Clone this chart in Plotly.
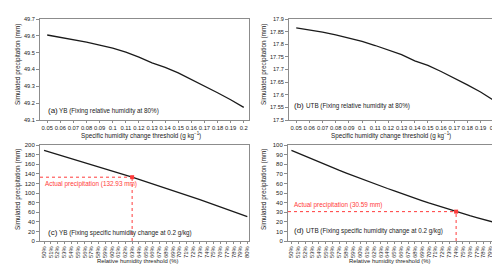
import plotly.graph_objects as go

# ---------------- data ----------------
sh_thresholds = ["0.05", "0.06", "0.07", "0.08", "0.09", "0.1", "0.11", "0.12",
                 "0.13", "0.14", "0.15", "0.16", "0.17", "0.18", "0.19", "0.2"]
yb_sh = [49.605, 49.592, 49.578, 49.562, 49.545, 49.527, 49.503, 49.474,
         49.440, 49.413, 49.380, 49.342, 49.300, 49.262, 49.220, 49.175]
utb_sh = [17.865, 17.857, 17.848, 17.837, 17.825, 17.811, 17.795, 17.777,
          17.759, 17.734, 17.716, 17.692, 17.667, 17.639, 17.611, 17.578]

rh_thresholds = [f"{v}%" for v in range(50, 81)]
yb_rh = [189.0, 184.8, 180.6, 176.4, 172.1, 167.8, 163.5, 159.2, 154.8, 150.4,
         146.0, 141.6, 137.3, 132.93, 128.4, 123.9, 119.3, 114.7, 110.0, 105.3,
         100.6, 95.8, 91.0, 86.1, 81.2, 76.2, 71.2, 66.1, 61.0, 55.8, 50.6]
utb_rh = [94.5, 91.4, 88.3, 85.3, 82.3, 79.4, 76.5, 73.6, 70.8, 68.0,
          65.3, 62.6, 59.9, 57.3, 54.7, 52.2, 49.5, 46.9, 44.4, 42.0,
          39.6, 37.3, 35.0, 32.8, 30.59, 28.5, 26.4, 24.4, 22.4, 20.4, 18.5]

yb_actual = 132.93
yb_actual_rh = "63%"
utb_actual = 30.59
utb_actual_rh = "74%"

# ---------------- figure ----------------
FONT = "Liberation Sans, Arial, sans-serif"
LINE = "#1a1a1a"
FRAME = "#8c8c8c"
RED = "#ff3b3b"

fig = go.Figure()
fig.add_trace(go.Scatter(x=sh_thresholds, y=yb_sh, mode="lines", xaxis="x", yaxis="y",
                         line=dict(color=LINE, width=1.3), showlegend=False))
fig.add_trace(go.Scatter(x=sh_thresholds, y=utb_sh, mode="lines", xaxis="x2", yaxis="y2",
                         line=dict(color=LINE, width=1.3), showlegend=False))
fig.add_trace(go.Scatter(x=rh_thresholds, y=yb_rh, mode="lines", xaxis="x3", yaxis="y3",
                         line=dict(color=LINE, width=1.3), showlegend=False))
fig.add_trace(go.Scatter(x=rh_thresholds, y=utb_rh, mode="lines", xaxis="x4", yaxis="y4",
                         line=dict(color=LINE, width=1.3), showlegend=False))

# actual precipitation markers
fig.add_trace(go.Scatter(x=[yb_actual_rh], y=[yb_actual], mode="markers", xaxis="x3", yaxis="y3",
                         marker=dict(color=RED, size=4, symbol="square"), showlegend=False))
fig.add_trace(go.Scatter(x=[utb_actual_rh], y=[utb_actual], mode="markers", xaxis="x4", yaxis="y4",
                         marker=dict(color=RED, size=4, symbol="square"), showlegend=False))

def xax(domain, anchor, rng, angle, size, cats, ticklen=2):
    return dict(domain=domain, anchor=anchor, type="category", range=rng,
                tickmode="array", tickvals=cats, ticktext=cats,
                ticklabeloverflow="allow", automargin=False,
                showline=True, linecolor=FRAME, linewidth=1, mirror=True,
                ticks="outside", ticklen=ticklen, tickcolor=FRAME, tickangle=angle,
                tickfont=dict(family=FONT, size=size, color="#222"),
                showgrid=False, zeroline=False)

def yax(domain, anchor, rng, dtick, size, fmt=None):
    d = dict(domain=domain, anchor=anchor, range=rng, dtick=dtick, tick0=rng[0],
             automargin=False,
             showline=True, linecolor=FRAME, linewidth=1, mirror=True,
             ticks="outside", ticklen=3, tickcolor=FRAME,
             tickfont=dict(family=FONT, size=size, color="#222"),
             showgrid=False, zeroline=False)
    if fmt:
        d["tickformat"] = fmt
    return d

top = [1 - 112 / 264, 1 - 11 / 264]
bot = [1 - 233 / 264, 1 - 137 / 264]

fig.update_layout(
    width=500, height=264, autosize=False,
    margin=dict(l=0, r=0, t=0, b=0),
    paper_bgcolor="white", plot_bgcolor="white",
    font=dict(family=FONT, color="#222"),
    xaxis=xax([32 / 500, 241 / 500], "y", [-0.55, 15.4], 0, 5.8, sh_thresholds),
    yaxis=yax(top, "x", [49.1, 49.7], 0.1, 5.6, ".1f"),
    xaxis2=xax([281 / 500, 491 / 500], "y2", [-0.55, 15.4], 0, 5.8, sh_thresholds),
    yaxis2=yax(top, "x2", [17.5, 17.9], 0.05, 5.6),
    xaxis3=xax([32 / 500, 241 / 500], "y3", [-0.6, 30.25], -90, 5.8, rh_thresholds),
    yaxis3=yax(bot, "x3", [0, 200], 20, 6),
    xaxis4=xax([280 / 500, 491 / 500], "y4", [-0.5, 30.25], -90, 5.8, rh_thresholds),
    yaxis4=yax(bot, "x4", [0, 100], 10, 6),
)

# dotted red guide lines
for xa, ya, cat, val, cats, x0 in [("x3", "y3", yb_actual_rh, yb_actual, rh_thresholds, -0.6),
                                   ("x4", "y4", utb_actual_rh, utb_actual, rh_thresholds, -0.5)]:
    idx = cats.index(cat)
    fig.add_shape(type="line", xref=xa, yref=ya, x0=x0, x1=idx, y0=val, y1=val,
                  line=dict(color=RED, width=1, dash="dot"))
    fig.add_shape(type="line", xref=xa, yref=ya, x0=idx, x1=idx, y0=0, y1=val,
                  line=dict(color=RED, width=1, dash="dot"))

ann = []
def txt(x, y, s, size, color="#222", angle=0, xanchor="left"):
    ann.append(dict(x=x / 500, y=1 - y / 264, xref="paper", yref="paper", text=s,
                    showarrow=False, xanchor=xanchor, yanchor="middle", textangle=angle,
                    font=dict(family=FONT, size=size, color=color)))

# panel labels
txt(38, 102.5, "(a)", 8)
txt(48.5, 103, "YB (Fixing relative humidity at 80%)", 6.3)
txt(284, 97.5, "(b)", 8)
txt(295.5, 98, "UTB (Fixing relative humidity at 80%)", 6.3)
txt(38, 224.5, "(c)", 8)
txt(48.5, 225, "YB (Fixing specific humidity change at 0.2 g/kg)", 6.3)
txt(284, 222.5, "(d)", 8)
txt(295.5, 223, "UTB (Fixing specific humidity change at 0.2 g/kg)", 6.3)

# actual precipitation labels
txt(35, 176, f"Actual precipitation ({yb_actual:.2f} mm)", 6.4, RED)
txt(284, 197, f"Actual precipitation ({utb_actual:.2f} mm)", 6.4, RED)

# axis titles
xt = "Specific humidity change threshold (g kg<sup>−1</sup>)"
txt(133, 127.5, xt, 6.3, xanchor="center")
txt(383, 127.5, xt, 6.3, xanchor="center")
txt(130, 253, "Relative humidity threshold (%)", 5.9, xanchor="center")
txt(382, 253, "Relative humidity threshold (%)", 5.9, xanchor="center")
for xx, yy in [(10, 57), (256, 57), (10, 182), (256, 182)]:
    txt(xx, yy, "Simulated precipitation (mm)", 6.4, angle=-90, xanchor="center")

fig.update_layout(annotations=ann)
fig.write_html("out.html")
